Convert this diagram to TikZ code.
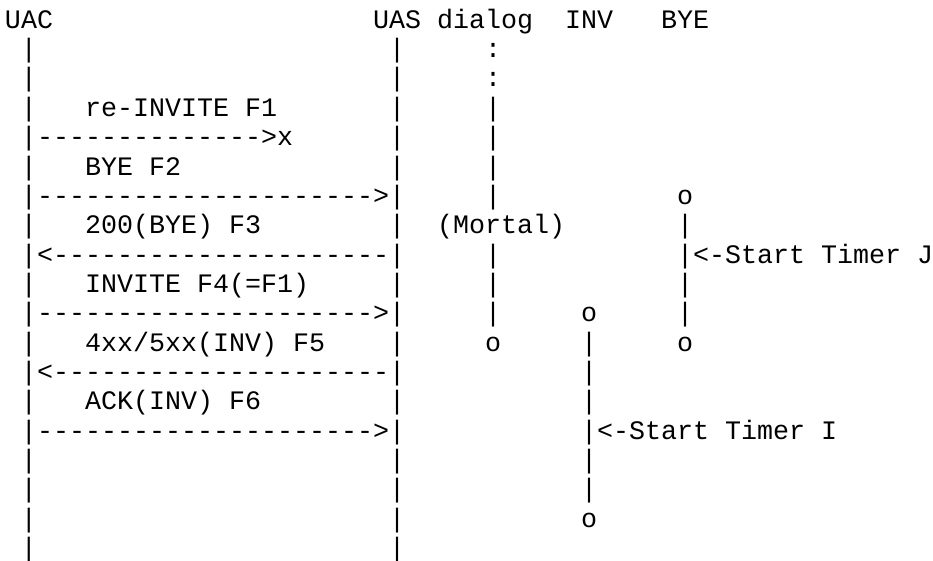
\documentclass[tikz,border=0pt]{standalone}
\usepackage{fontspec}
\setmonofont{Liberation Mono}

\tikzset{
  txt/.style={anchor=base west, inner sep=0pt, outer sep=0pt,
    font=\ttfamily\fontsize{26.67pt}{29.35pt}\selectfont},
}

\begin{document}
\begin{tikzpicture}[x=16pt, y=-29.35pt]
	\useasboundingbox (-0.3125,-0.9642) rectangle (58,18.116);
	% header
	\node[txt] (uac) at (0,0) {UAC};
	\node[txt] (uas) at (23,0) {UAS};
	\node[txt] (dlg) at (27,0) {dialog};
	\node[txt] (inv) at (35,0) {INV};
	\node[txt] (bye) at (41,0) {BYE};
	% lifelines
	\foreach \r in {1,...,18} {
		\node[txt] (uacbar\r) at (1,\r) {|};
		\node[txt] (uasbar\r) at (24,\r) {|};
	}
	% dialog state
	\node[txt] (dlgdot1) at (30,1) {:};
	\node[txt] (dlgdot2) at (30,2) {:};
	\foreach \r in {3,4,5,6,8,9,10} \node[txt] (dlgbar\r) at (30,\r) {|};
	\node[txt] (mortal) at (27,7) {(Mortal)};
	\node[txt] (dlgend) at (30,11) {o};
	% INV transaction
	\node[txt] (invstart) at (36,10) {o};
	\foreach \r in {11,...,16} \node[txt] (invbar\r) at (36,\r) {|};
	\node[txt] (invend) at (36,17) {o};
	\node[txt] (timeri) at (37,14) {<-Start Timer I};
	% BYE transaction
	\node[txt] (byestart) at (42,6) {o};
	\foreach \r in {7,...,10} \node[txt] (byebar\r) at (42,\r) {|};
	\node[txt] (byeend) at (42,11) {o};
	\node[txt] (timerj) at (43,8) {<-Start Timer J};
	% messages
	\node[txt] (f1) at (5,3) {re-INVITE F1};
	\node[txt] (msg1) at (2,4) {-------------->x};
	\node[txt] (f2) at (5,5) {BYE F2};
	\node[txt] (msg2) at (2,6) {--------------------->};
	\node[txt] (f3) at (5,7) {200(BYE) F3};
	\node[txt] (msg3) at (2,8) {<---------------------};
	\node[txt] (f4) at (5,9) {INVITE F4(=F1)};
	\node[txt] (msg4) at (2,10) {--------------------->};
	\node[txt] (f5) at (5,11) {4xx/5xx(INV) F5};
	\node[txt] (msg5) at (2,12) {<---------------------};
	\node[txt] (f6) at (5,13) {ACK(INV) F6};
	\node[txt] (msg6) at (2,14) {--------------------->};
\end{tikzpicture}
\end{document}
